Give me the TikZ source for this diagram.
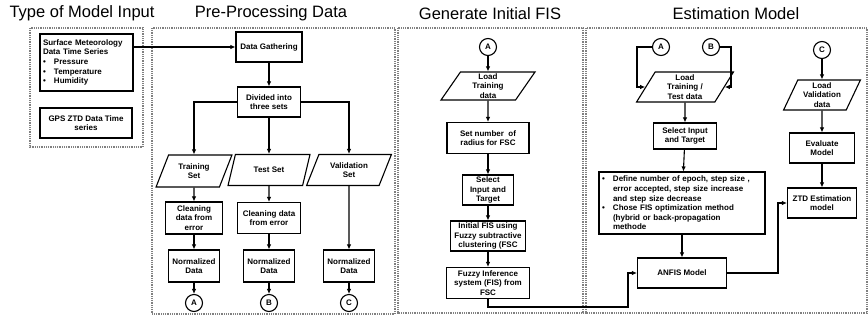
\documentclass[tikz,border=0pt]{standalone}
\usepackage{fontspec}
\setmainfont{Liberation Sans}
\usetikzlibrary{shapes.geometric,arrows.meta}
\newcommand{\bul}{\makebox[11pt][l]{\textbullet}}
\newcommand{\ind}{\hspace*{11pt}}

\begin{document}
\begin{tikzpicture}[x=1pt,y=-1pt]
	\tikzstyle{box}     = [rectangle, draw=black, line width=1.1pt, fill=white, align=center, inner sep=1pt, font=\bfseries\fontsize{8}{9.6}\selectfont]
	\tikzstyle{io}      = [box, trapezium, trapezium left angle=65, trapezium right angle=115, trapezium stretches=true]
	\tikzstyle{conn}    = [circle, draw=black, line width=1.1pt, minimum size=17pt, inner sep=0pt, font=\bfseries\fontsize{8}{9.6}\selectfont]
	\tikzstyle{heading} = [font=\fontsize{16.5}{18}\selectfont]
	\tikzstyle{panel}   = [gray, line width=1.2pt, dash pattern=on 0.9pt off 0.9pt]
	\tikzstyle{arr}     = [-{Latex[length=5pt,width=4.5pt]}, line width=1.1pt]

	\useasboundingbox (0,0) rectangle (868,322);

	% dotted panels
	\draw[panel] (30,28) rectangle (143,147);
	\draw[panel] (152,28) rectangle (395,314);
	\draw[panel] (398,28) rectangle (583,313);
	\draw[panel] (586,28) rectangle (867,313);

	\node[heading] (tinput) at (82,13) {Type of Model Input};
	\node[heading] (tpre) at (271,13) {Pre-Processing Data};
	\node[heading] (tgen) at (490,14) {Generate Initial FIS};
	\node[heading] (test) at (736,14) {Estimation Model};

	% model input
	\node[box, align=left, text width=87pt, inner xsep=3pt, minimum height=57pt] (surf) at (86.5,62.5)
		{Surface Meteorology\\Data Time Series\\\bul Pressure\\\bul Temperature\\\bul Humidity};
	\node[box, minimum width=92pt, minimum height=30pt] (gps) at (86,123) {GPS ZTD Data Time\\series};

	% pre-processing
	\node[box, minimum width=66pt, minimum height=30pt] (gather) at (269,47) {Data Gathering};
	\node[box, minimum width=63pt, minimum height=30pt] (divide) at (269,102) {Divided into\\three sets};
	\node[io, minimum width=76pt, minimum height=32pt] (train) at (194,171) {Training\\Set};
	\node[io, minimum width=82pt, minimum height=31pt] (testset) at (269,170) {Test Set};
	\node[io, minimum width=85pt, minimum height=31pt] (valid) at (349,170) {Validation\\Set};
	\node[box, minimum width=57pt, minimum height=32pt] (clean1) at (194,218) {Cleaning\\data from\\error};
	\node[box, minimum width=63pt, minimum height=31pt] (clean2) at (269,218) {Cleaning data\\from error};

	\foreach \n/\x in {1/194, 2/269, 3/349}
		\node[box, minimum width=51pt, minimum height=32pt] (norm\n) at (\x,266) {Normalized\\Data};

	\foreach \c/\x in {A/194, B/269, C/349}
		\node[conn] (c\c) at (\x,303) {\c};

	% generate initial FIS
	\node[conn] (gA) at (488,47) {A};
	\node[io, minimum width=94pt, minimum height=28pt, inner ysep=0pt] (loadtr) at (488,86) {Load\\Training\\data};
	\node[box, minimum width=82pt, minimum height=31pt] (setrad) at (488,138) {Set number~ of\\radius for FSC};
	\node[box, minimum width=51pt, minimum height=30pt] (sel1) at (488,190) {Select\\Input and\\Target};
	\node[box, minimum width=75pt, minimum height=30pt] (initfis) at (488,236) {Initial FIS using\\Fuzzy subtractive\\clustering (FSC};
	\node[box, minimum width=83pt, minimum height=31pt] (fis) at (488,283) {Fuzzy Inference\\system (FIS) from\\FSC};

	% estimation model
	\node[conn] (eA) at (661,47) {A};
	\node[conn] (eB) at (711,47) {B};
	\node[io, minimum width=97pt, minimum height=30pt, inner ysep=0pt] (load2) at (685,87) {Load\\Training /\\Test data};
	\node[box, minimum width=63pt, minimum height=26pt] (sel2) at (685,136) {Select Input\\and Target};
	\node[box, align=left, text width=160pt, inner xsep=3pt, minimum height=62pt] (define) at (682,203)
		{\bul Define number of epoch, step size ,\\\ind error accepted, step size increase\\\ind and step size decrease\\\bul Chose FIS optimization method\\\ind (hybrid or back-propagation\\\ind methode};
	\node[box, minimum width=89pt, minimum height=30pt] (anfis) at (682,273) {ANFIS Model};
	\node[conn] (eC) at (822,50) {C};
	\node[io, minimum width=77pt, minimum height=30pt, inner ysep=0pt] (loadv) at (822,95) {Load\\Validation\\data};
	\node[box, minimum width=65pt, minimum height=30pt] (evalm) at (822,148) {Evaluate\\Model};
	\node[box, minimum width=69pt, minimum height=30pt] (ztd) at (822,203) {ZTD Estimation\\model};

	\coordinate (fisturn) at (628,307);
	\coordinate (aturn) at (637,47);
	\coordinate (bturn) at (731,47);
	\coordinate (ztdturn) at (778,273);

	% connectors
	\draw[arr] (surf.east |- gather.west) -- (gather.west);
	\draw[arr] (gather) -- (divide);
	\draw[arr] (divide.west) -| (train.north);
	\draw[arr] (divide) -- (testset);
	\draw[arr] (divide.east) -| (valid.north);

	\foreach \from/\to in {train/clean1, clean1/norm1, norm1/cA, testset/clean2, clean2/norm2, norm2/cB, valid/norm3, norm3/cC}
		\draw[arr] (\from) -- (\to);

	\foreach \from/\to in {gA/loadtr, loadtr/setrad, setrad/sel1, sel1/initfis, initfis/fis}
		\draw[arr] (\from) -- (\to);
	\draw[arr] (fis.south) |- (fisturn) |- (anfis.west);

	\draw[arr] (eA.west) -- (aturn) |- (load2.left side);
	\draw[arr] (eB.east) -- (bturn) |- (load2.right side);
	\foreach \from/\to in {load2/sel2, sel2/define, define/anfis, eC/loadv, loadv/evalm, evalm/ztd}
		\draw[arr] (\from) -- (\to);
	\draw[arr] (anfis.east) -- (ztdturn) |- (ztd.west);
\end{tikzpicture}
\end{document}
